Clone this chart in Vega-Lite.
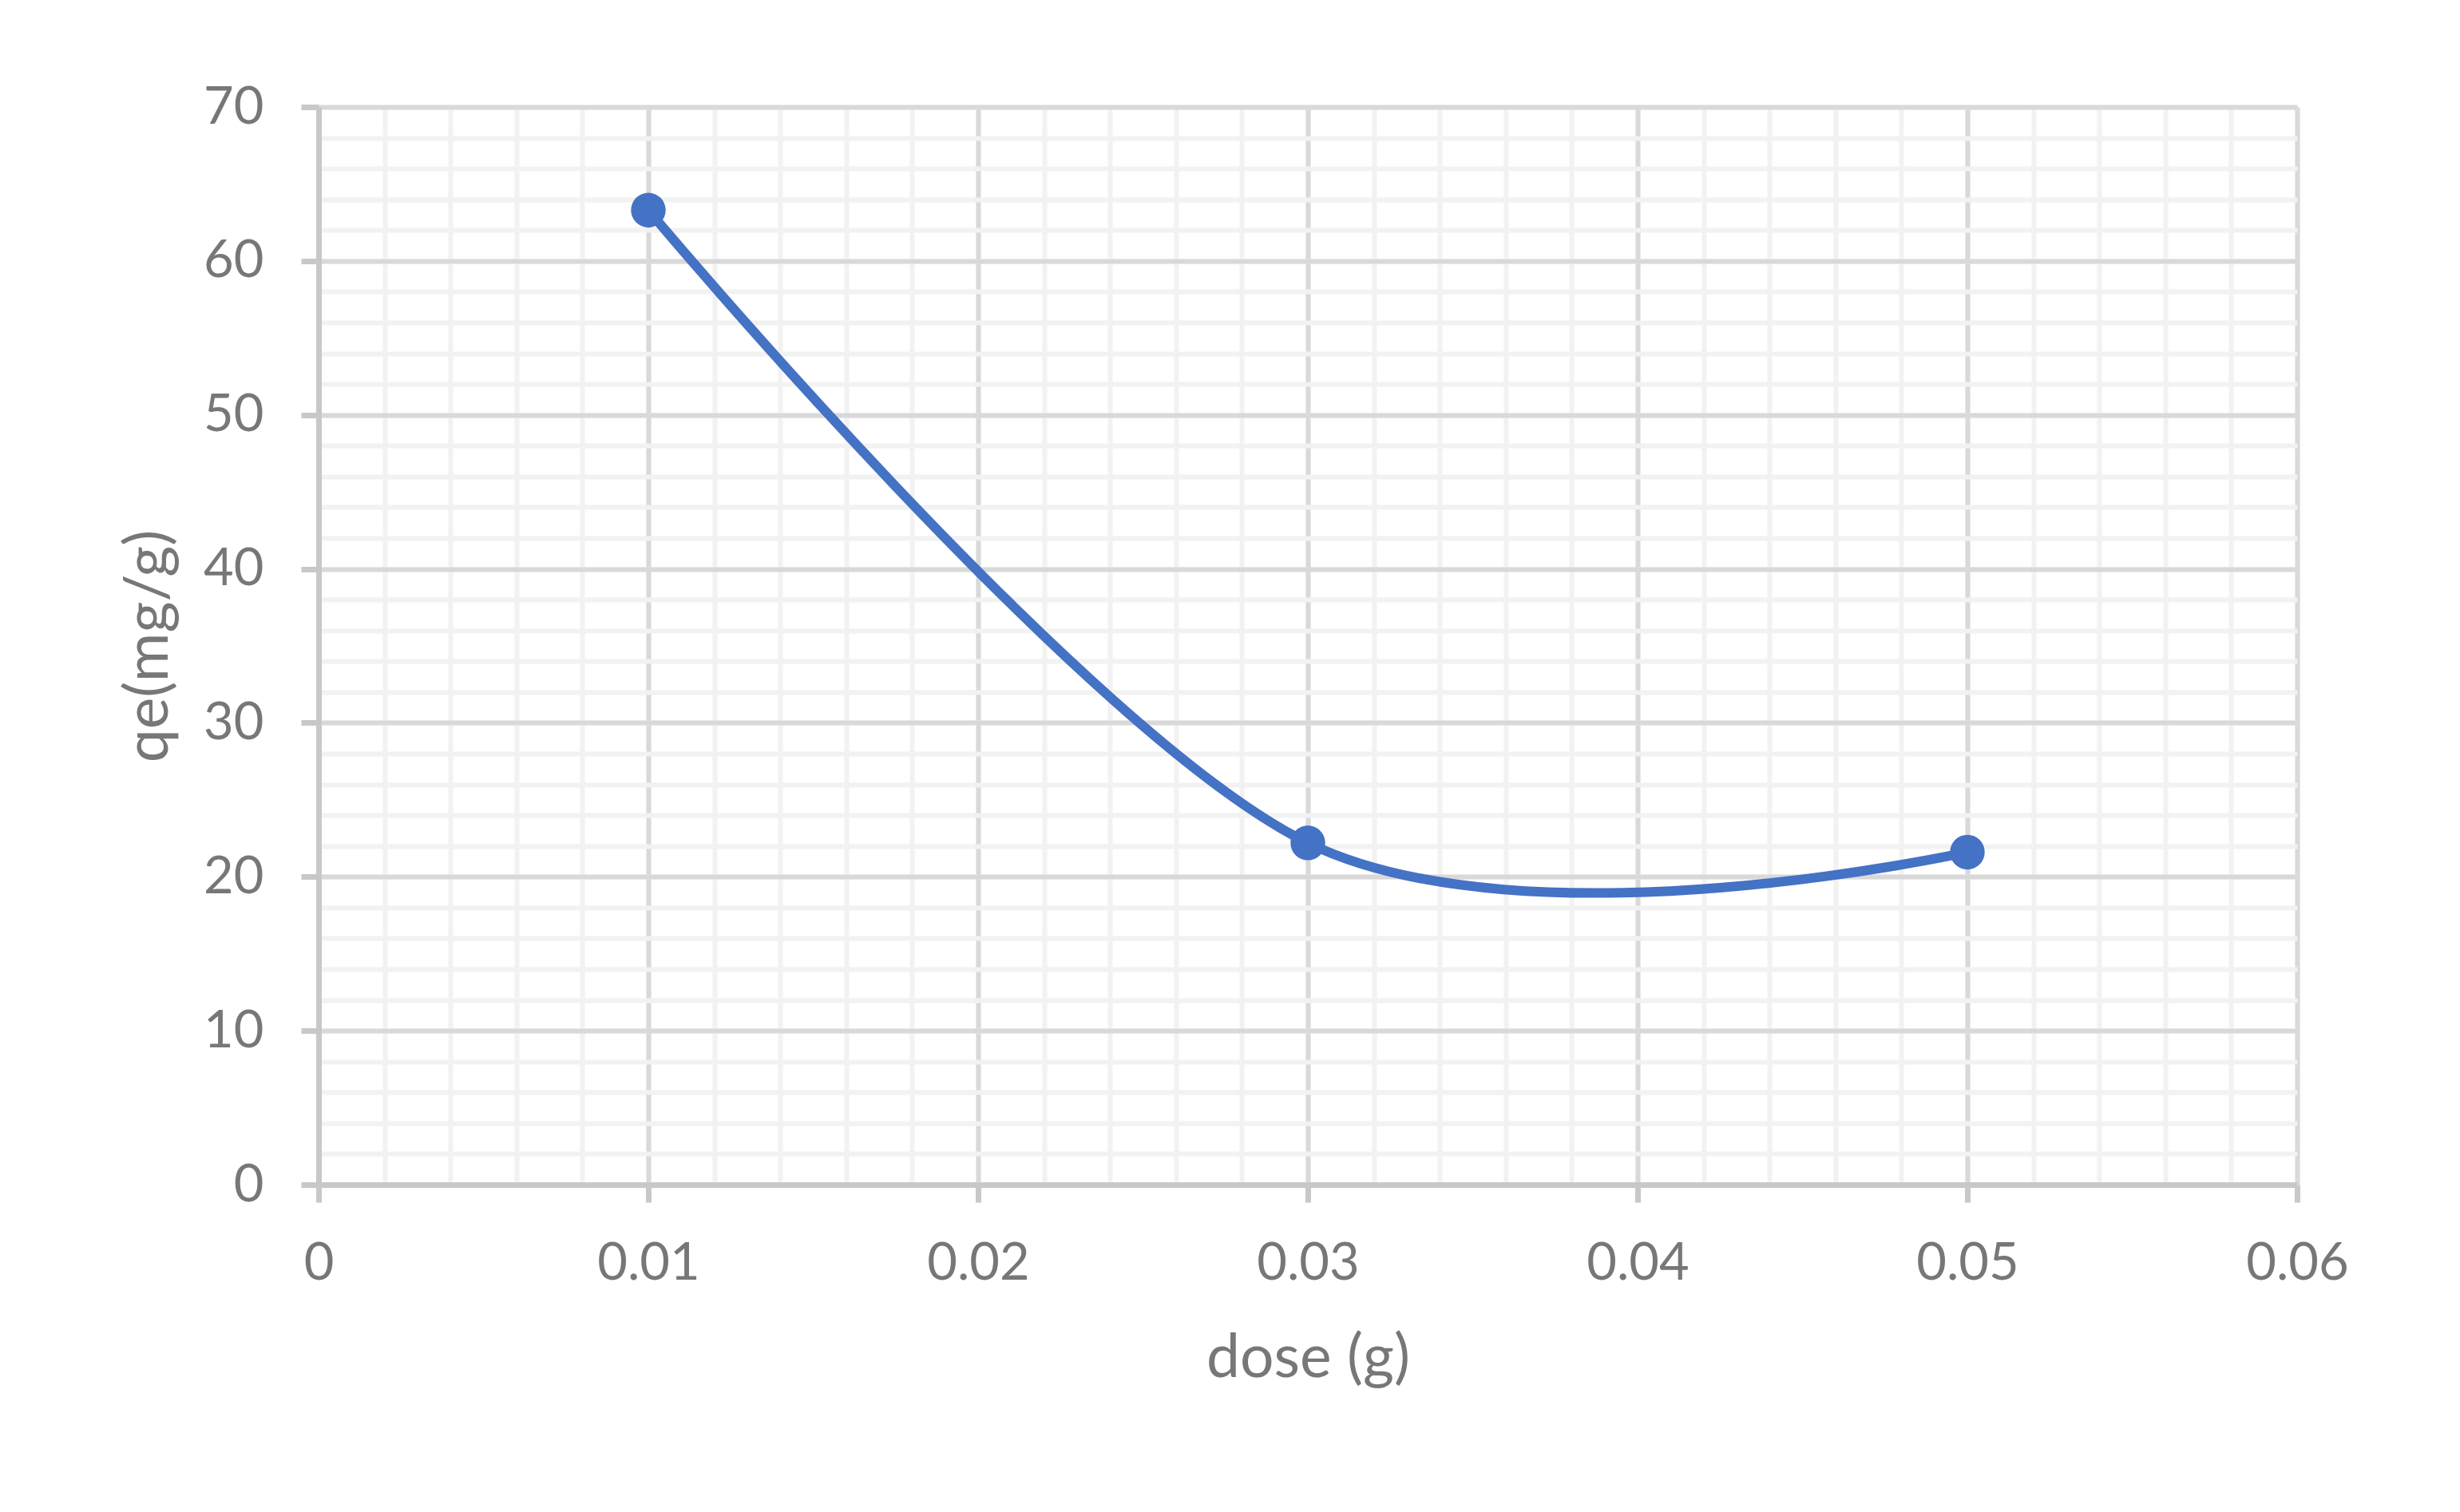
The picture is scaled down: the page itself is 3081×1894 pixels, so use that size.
{
  "$schema": "https://vega.github.io/schema/vega-lite/v6.json",
  "width": 2478,
  "height": 1350,
  "autosize": {"type": "none"},
  "padding": {"left": 399, "top": 134, "right": 204, "bottom": 410},
  "background": "white",
  "config": {
    "view": {"stroke": null},
    "font": "Lato",
    "axis": {"labelFont": "Lato", "titleFont": "Lato", "labelColor": "#777777", "titleColor": "#777777", "titleFontWeight": "normal"}
  },
  "data": {"values": [
    {"dose": 0.01, "qe": 63.3},
    {"dose": 0.03, "qe": 22.2},
    {"dose": 0.05, "qe": 21.6}
  ]},
  "layer": [
    {
      "mark": {"type": "line", "interpolate": "cardinal", "strokeWidth": 12, "color": "#4472C4", "strokeCap": "round", "strokeJoin": "round"},
      "encoding": {
        "x": {"field": "dose", "type": "quantitative",
          "scale": {"domain": [0, 0.06], "nice": false, "zero": false},
          "axis": {"orient": "bottom", "values": [0,0.002,0.004,0.006,0.008,0.01,0.012,0.014,0.016,0.018,0.02,0.022,0.024,0.026,0.028,0.03,0.032,0.034,0.036,0.038,0.04,0.042,0.044,0.046,0.048,0.05,0.052,0.054,0.056,0.058,0.06],
            "grid": true, "gridColor": "#f2f2f2", "gridWidth": 6, "labels": false, "ticks": false, "domain": false, "title": null}},
        "y": {"field": "qe", "type": "quantitative",
          "scale": {"domain": [0, 70], "nice": false, "zero": true},
          "axis": {"orient": "left", "values": [0,2,4,6,8,10,12,14,16,18,20,22,24,26,28,30,32,34,36,38,40,42,44,46,48,50,52,54,56,58,60,62,64,66,68,70],
            "grid": true, "gridColor": "#f2f2f2", "gridWidth": 6, "labels": false, "ticks": false, "domain": false, "title": null}}
      }
    },
    {
      "mark": {"type": "point", "filled": true, "size": 1890, "color": "#4472C4", "opacity": 1},
      "encoding": {
        "x": {"field": "dose", "type": "quantitative",
          "axis": {"orient": "bottom", "values": [0,0.01,0.02,0.03,0.04,0.05,0.06], "format": "~g",
            "grid": true, "gridColor": "#d9d9d9", "gridWidth": 6,
            "domain": true, "domainColor": "#c8c8c8", "domainWidth": 7,
            "ticks": true, "tickColor": "#c8c8c8", "tickWidth": 7, "tickSize": 22,
            "labelFontSize": 65, "labelPadding": 45, "labelFlush": false,
            "title": "dose (g)", "titleFontSize": 75, "titlePadding": 50}},
        "y": {"field": "qe", "type": "quantitative",
          "axis": {"orient": "left", "values": [0,10,20,30,40,50,60,70],
            "grid": true, "gridColor": "#d9d9d9", "gridWidth": 6,
            "domain": true, "domainColor": "#c8c8c8", "domainWidth": 7,
            "ticks": true, "tickColor": "#c8c8c8", "tickWidth": 7, "tickSize": 22,
            "labelFontSize": 65, "labelPadding": 47, "labelFlush": false,
            "title": "qe(mg/g)", "titleFontSize": 75, "titlePadding": 45, "titleBaseline": "alphabetic"}}
      }
    }
  ],
  "resolve": {"axis": {"x": "independent", "y": "independent"}}
}
